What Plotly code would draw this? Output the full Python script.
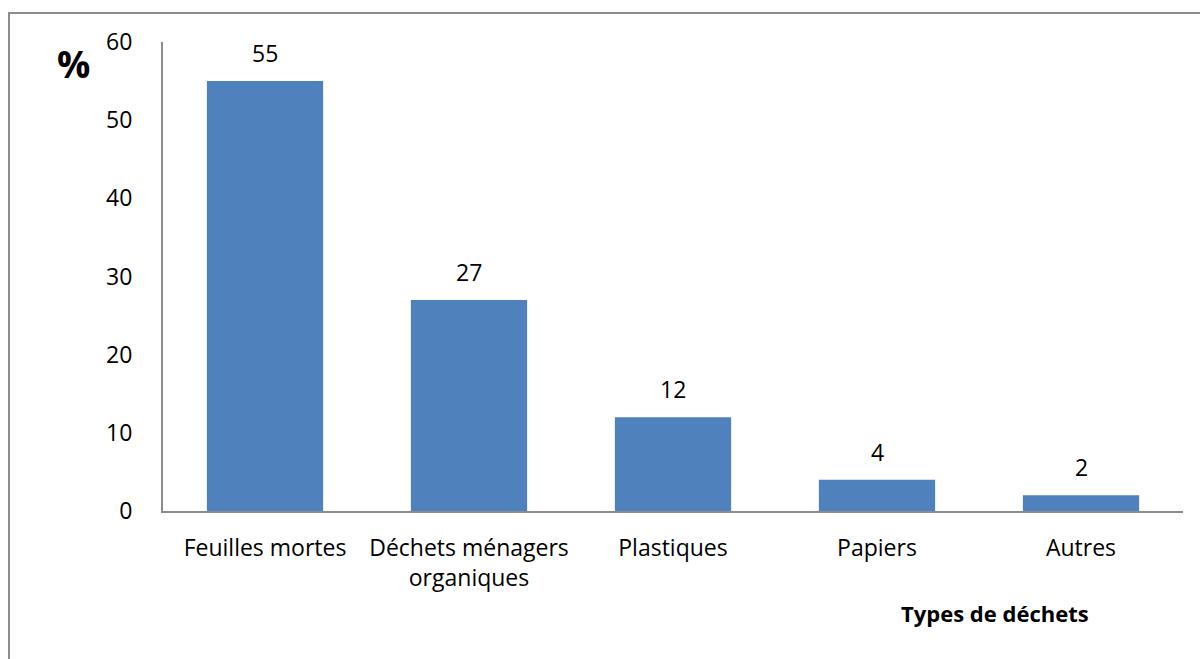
import plotly.graph_objects as go

categories = ["Feuilles mortes", "Déchets ménagers<br>organiques", "Plastiques", "Papiers", "Autres"]
values = [55, 27, 12, 4, 2]
y_ticks = [0, 10, 20, 30, 40, 50, 60]

FONT = "Open Sans, Calibri, sans-serif"
FS = 23

fig = go.Figure()
fig.add_trace(go.Bar(
    x=categories, y=values,
    marker=dict(color="#4F81BD", line=dict(width=0)),
    textposition="none",
    width=0.57,
))
for c, v in zip(categories, values):
    fig.add_annotation(x=c, y=v, text=str(v), showarrow=False, yshift=28,
                       font=dict(family=FONT, size=FS, color="#000"))

L, R, T, B = 163, 1183, 42, 511
W, H = R - L, B - T

def px(x):
    return (x - L) / W

def py(y):
    return (B - y) / H

fig.add_shape(type="rect", xref="paper", yref="paper",
              x0=px(9), x1=px(1210), y0=py(670), y1=py(13),
              line=dict(color="#8c8c8c", width=2), fillcolor="rgba(0,0,0,0)")

fig.add_annotation(xref="paper", yref="paper", x=px(73), y=py(64), xanchor="center", yanchor="middle",
                   text="<b>%</b>", showarrow=False, font=dict(family=FONT, size=37, color="#000"))
fig.add_annotation(xref="paper", yref="paper", x=px(995), y=py(613), xanchor="center", yanchor="middle",
                   text="<b>Types de déchets</b>", showarrow=False,
                   font=dict(family=FONT, size=22, color="#000"))

fig.update_layout(
    width=1200, height=659,
    margin=dict(l=L, r=1200 - R, t=T, b=659 - B),
    paper_bgcolor="white", plot_bgcolor="white",
    showlegend=False,
    font=dict(family=FONT, size=FS, color="#000"),
)
fig.update_xaxes(showline=True, linecolor="#8c8c8c", linewidth=2, showgrid=False,
                 ticks="", ticklabelstandoff=15, tickfont=dict(family=FONT, size=FS, color="#000"))
fig.update_yaxes(range=[0, 60], tickvals=y_ticks, showline=True, linecolor="#8c8c8c", linewidth=2,
                 showgrid=False, zeroline=False, ticks="", ticklabelstandoff=24,
                 tickfont=dict(family=FONT, size=FS, color="#000"))

fig.write_html("out.html", config={"displayModeBar": False},
               post_script="document.body.style.margin='0';document.body.style.overflow='hidden';")
